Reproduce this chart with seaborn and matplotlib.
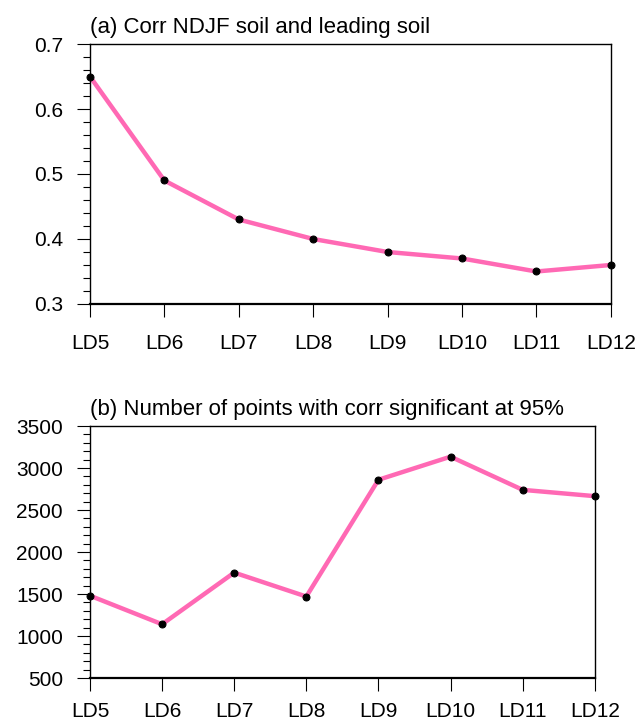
import matplotlib
matplotlib.use("Agg")
import matplotlib.pyplot as plt
from matplotlib.ticker import MultipleLocator
import pandas as pd
import seaborn as sns

leads = ["LD5", "LD6", "LD7", "LD8", "LD9", "LD10", "LD11", "LD12"]
corr = [0.65, 0.49, 0.43, 0.40, 0.38, 0.37, 0.35, 0.36]
npoints = [1480, 1140, 1755, 1470, 2860, 3135, 2740, 2665]

sns.set_theme(style="ticks")
plt.rcParams["font.family"] = ["Liberation Sans", "DejaVu Sans"]
plt.rcParams["text.color"] = "black"
plt.rcParams["xtick.color"] = "black"
plt.rcParams["ytick.color"] = "black"

df = pd.DataFrame({"lead": leads, "corr": corr, "npoints": npoints})
pink = "#FF69B4"

fig = plt.figure(figsize=(6.39, 7.25), dpi=100)
ax1 = fig.add_axes([0.1408, 0.5807, 0.815, 0.3586])
ax2 = fig.add_axes([0.1408, 0.0648, 0.790, 0.3476])


def style_panel(ax, col, ylim, major, minor, title, xpad):
    sns.lineplot(data=df, x="lead", y=col, ax=ax, color=pink, lw=3.2,
                 marker="o", markersize=5, markerfacecolor="black",
                 markeredgecolor="black", clip_on=False)
    ax.set_xlim(0, len(leads) - 1)
    ax.set_ylim(*ylim)
    ax.yaxis.set_major_locator(MultipleLocator(major))
    ax.yaxis.set_minor_locator(MultipleLocator(minor))
    ax.set_xlabel("")
    ax.set_ylabel("")
    for s in ax.spines.values():
        s.set_linewidth(1.0)
        s.set_color("black")
    ax.spines["bottom"].set_linewidth(1.6)
    ax.tick_params(axis="both", which="major", direction="out", length=9.5,
                   width=0.8, labelsize=15, color="black", labelcolor="black")
    ax.tick_params(axis="y", which="minor", direction="out", length=5,
                   width=0.8, color="black")
    ax.tick_params(axis="y", which="major", pad=10)
    ax.tick_params(axis="x", which="major", pad=xpad)
    ax.set_title(title, loc="left", fontsize=16, pad=8, color="black")


style_panel(ax1, "corr", (0.3, 0.7), 0.1, 0.02,
            "(a) Corr NDJF soil and leading soil", 12)
style_panel(ax2, "npoints", (500, 3500), 500, 100,
            "(b) Number of points with corr significant at 95%", 8)

fig.savefig("out.png", dpi=100)
